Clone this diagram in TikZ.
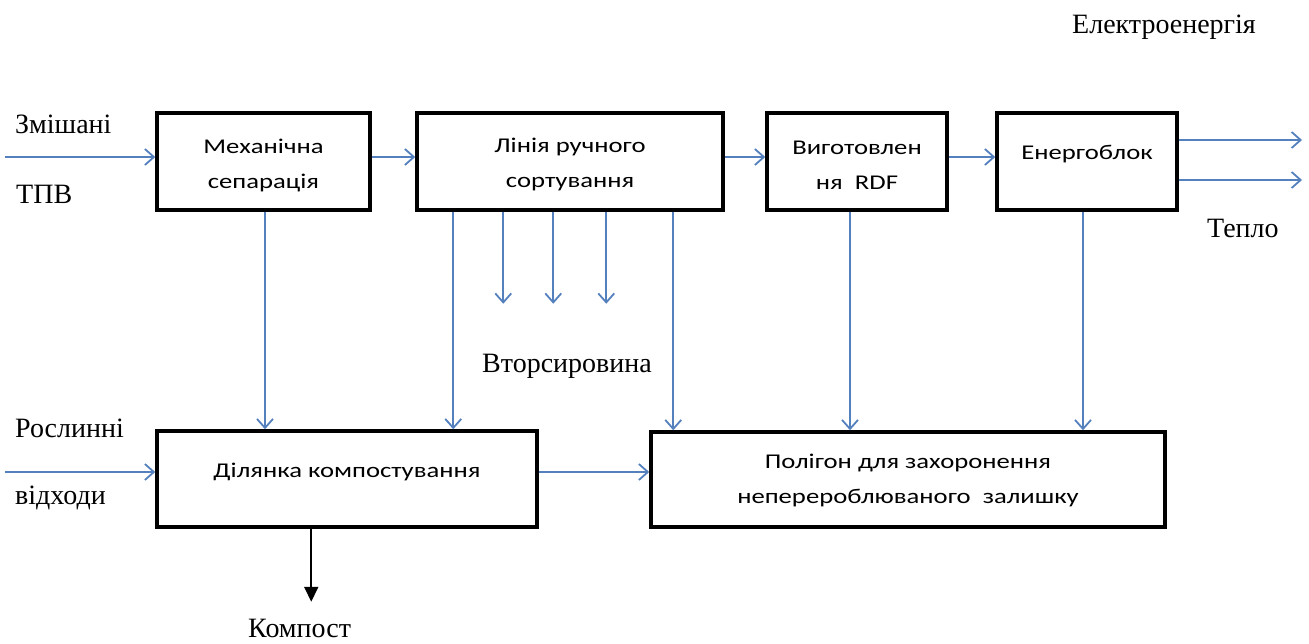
\documentclass[tikz,border=0pt]{standalone}
\usepackage{fontspec}
\setmainfont{Liberation Serif}
\newfontfamily\boxfont[FakeStretch=1.27]{Carlito}
\usetikzlibrary{arrows.meta,calc}

\definecolor{flowblue}{RGB}{84,128,190}

\begin{document}
\begin{tikzpicture}[x=1pt,y=-1pt,
  box/.style={draw=black, line width=3.5pt, fill=white, inner sep=0pt},
  boxtext/.style={align=center, inner sep=0pt,
    font=\boxfont\fontsize{21}{35}\selectfont},
  flow/.style={draw=flowblue, line width=1.8pt,
    -{Straight Barb[length=9pt,width=16pt]}},
  product/.style={draw=black, line width=1.8pt,
    -{Triangle[length=15pt,width=14pt]}},
  lbl/.style={inner sep=0pt, anchor=base west,
    font=\fontsize{28}{32}\selectfont}]

\useasboundingbox (0,0) rectangle (1309,643);

% process blocks
\node[box, minimum width=213pt, minimum height=97pt,
  label={[boxtext, yshift=-4pt]center:{Механічна\\сепарація}}] (sep) at (263.5,161.5) {};
\node[box, minimum width=306pt, minimum height=97pt,
  label={[boxtext, yshift=-3pt]center:{Лінія ручного\\сортування}}] (sort) at (570,161.5) {};
\node[box, minimum width=180pt, minimum height=97pt,
  label={[boxtext, yshift=-4pt]center:{Виготовлен\\ня~~RDF}}] (rdf) at (857,161.5) {};
\node[box, minimum width=180pt, minimum height=97pt,
  label={[boxtext, yshift=7pt]center:{Енергоблок}}] (power) at (1087,161.5) {};
\node[box, minimum width=380pt, minimum height=96pt,
  label={[boxtext, yshift=7pt]center:{Ділянка компостування}}] (comp) at (347,479) {};
\node[box, minimum width=514pt, minimum height=95pt,
  label={[boxtext, yshift=-1pt]center:{Полігон для захоронення\\неперероблюваного~~залишку}}] (land) at (908,479.5) {};

% free ends of the flows
\coordinate (inA) at (5,157);
\coordinate (inB) at (5,472);
\coordinate (outE) at (1302,140);
\coordinate (outH) at (1302,180);

% inputs
\draw[flow] (inA) -- (inA -| sep.west);
\draw[flow] (inB) -- (inB -| comp.west);

% main line
\draw[flow] ([yshift=4.5pt]sep.east) -- ([yshift=4.5pt]sort.west);
\draw[flow] ([yshift=4.5pt]sort.east) -- ([yshift=4.5pt]rdf.west);
\draw[flow] ([yshift=4.5pt]rdf.east) -- ([yshift=4.5pt]power.west);

% energy outputs
\draw[flow] (outE -| power.east) -- (outE);
\draw[flow] (outH -| power.east) -- (outH);

% to composting
\draw[flow] ([xshift=1.5pt]sep.south) -- ([xshift=1.5pt]sep.south |- comp.north);
\coordinate (s1) at ($(sort.south west)+(38,0)$);
\draw[flow] (s1) -- (s1 |- comp.north);

% recyclables
\foreach \dx/\nm in {88/r1,138/r2,191/r3}{
  \coordinate (\nm) at ($(sort.south west)+(\dx,0)$);
  \draw[flow] (\nm) -- ++(0,92);
}

% to landfill
\coordinate (s2) at ($(sort.south west)+(258,0)$);
\draw[flow] (s2) -- (s2 |- land.north);
\draw[flow] ([xshift=-7pt]rdf.south) -- ([xshift=-7pt]rdf.south |- land.north);
\draw[flow] ([xshift=-4pt]power.south) -- ([xshift=-4pt]power.south |- land.north);
\draw[flow] ([yshift=7pt]comp.east) -- ([yshift=7pt]comp.east -| land.west);

% compost output
\coordinate (cOut) at ($(comp.south west)+(156,73)$);
\draw[product] (comp.south -| cOut) -- (cOut);

% labels
\node[lbl] (l1) at (15,133) {Змішані};
\node[lbl] (l2) at (16,203) {ТПВ};
\node[lbl] (l3) at (15,437) {Рослинні};
\node[lbl] (l4) at (15,504) {відходи};
\node[lbl] (l5) at (482,372) {Вторсировина};
\node[lbl] (l6) at (248,637) {Компост};
\node[lbl] (l7) at (1207,237) {Тепло};
\node[lbl] (l8) at (1072,33) {Електроенергія};

\end{tikzpicture}
\end{document}
